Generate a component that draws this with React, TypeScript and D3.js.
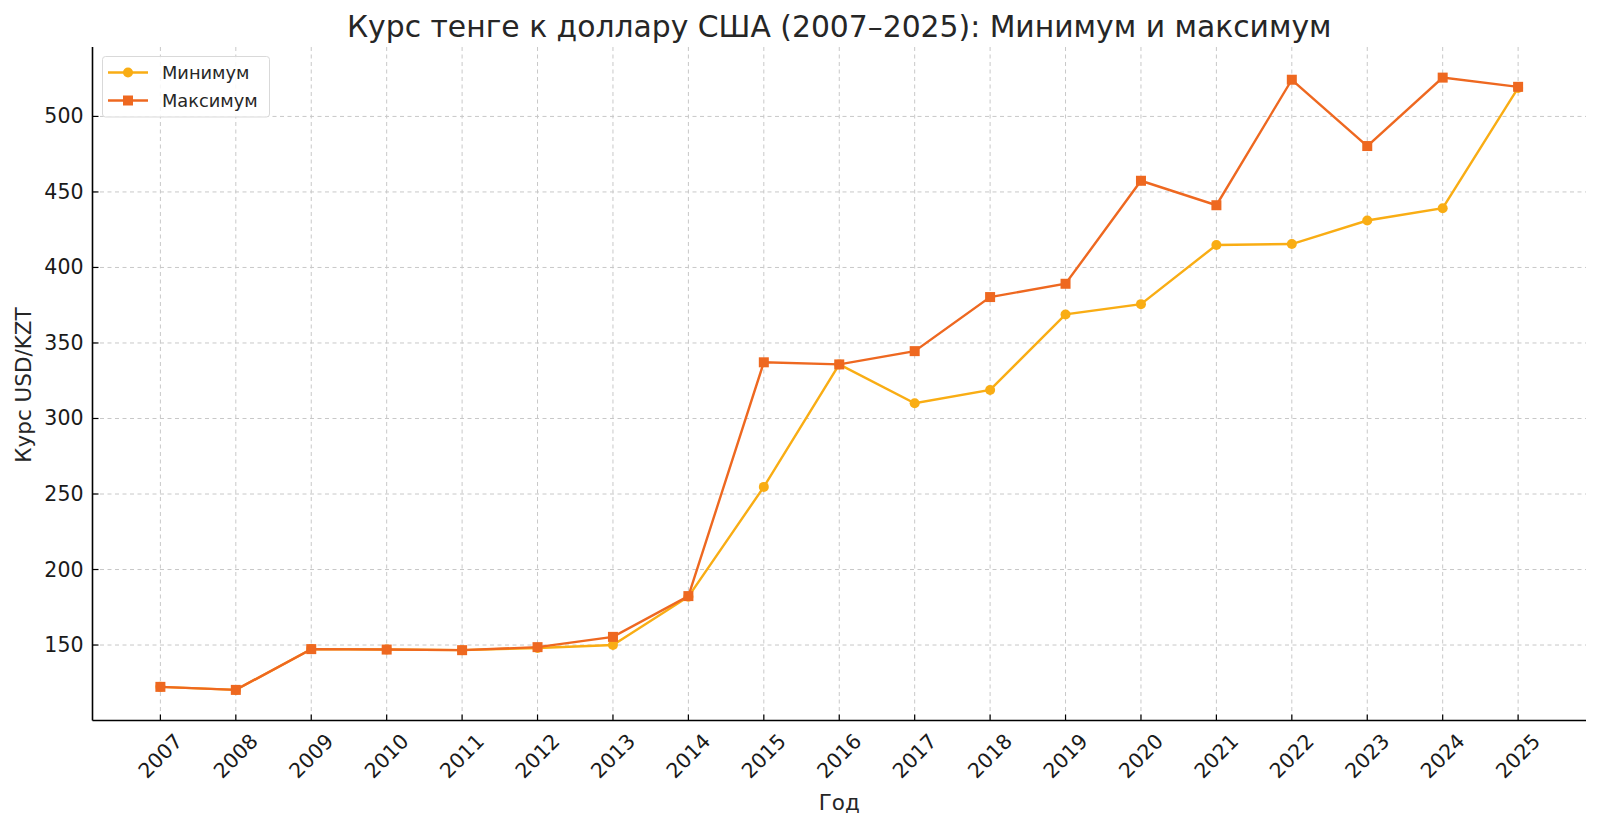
import React from "react";
import * as d3 from "d3";

const years = [2007, 2008, 2009, 2010, 2011, 2012, 2013, 2014, 2015, 2016, 2017, 2018, 2019, 2020, 2021, 2022, 2023, 2024, 2025];
const minValues = [122.3, 120.3, 147.3, 147.0, 146.6, 148.0, 150.0, 182.0, 254.7, 335.8, 310.1, 318.9, 368.9, 375.7, 414.9, 415.5, 431.1, 439.2, 518.9];
const maxValues = [122.3, 120.3, 147.3, 147.0, 146.6, 148.6, 155.4, 182.4, 337.2, 335.8, 344.6, 380.4, 389.2, 457.4, 441.2, 524.3, 480.4, 525.7, 519.6];
const yTicks = [150, 200, 250, 300, 350, 400, 450, 500];
const seriesNames = ["Минимум", "Максимум"];
const title = "Курс тенге к доллару США (2007–2025): Минимум и максимум";
const xLabel = "Год";
const yLabel = "Курс USD/KZT";

const W = 1600;
const H = 827;
const M = { left: 92.5, right: 1586, top: 47, bottom: 720.5 };
const MIN_COLOR = "#f9ad14";
const MAX_COLOR = "#ee6820";
const FONT = "'DejaVu Sans', sans-serif";

export default function App() {
  const x = d3.scaleLinear().domain([2006.1, 2025.9]).range([M.left, M.right]);
  const allVals = [...minValues, ...maxValues];
  const lo = d3.min(allVals)!;
  const hi = d3.max(allVals)!;
  const pad = (hi - lo) * 0.05;
  const y = d3.scaleLinear().domain([lo - pad, hi + pad]).range([M.bottom, M.top]);

  const line = d3
    .line<[number, number]>()
    .x((d) => x(d[0]))
    .y((d) => y(d[1]));
  const minPts: [number, number][] = years.map((yr, i) => [yr, minValues[i]]);
  const maxPts: [number, number][] = years.map((yr, i) => [yr, maxValues[i]]);

  const cx = (M.left + M.right) / 2;
  const cy = (M.top + M.bottom) / 2;

  return (
    <svg
      width={W}
      height={H}
      viewBox={`0 0 ${W} ${H}`}
      style={{ position: "absolute", left: 0, top: 0, background: "#fff" }}
      fontFamily={FONT}
    >
      <rect x={0} y={0} width={W} height={H} fill="#fff" />
      {/* grid */}
      <g stroke="#c8c8c8" strokeWidth={1} strokeDasharray="4,3.5">
        {years.map((yr) => (
          <line key={"gx" + yr} x1={x(yr)} x2={x(yr)} y1={M.top} y2={M.bottom} />
        ))}
        {yTicks.map((t) => (
          <line key={"gy" + t} x1={M.left} x2={M.right} y1={y(t)} y2={y(t)} />
        ))}
      </g>
      {/* series */}
      <path d={line(minPts)!} fill="none" stroke={MIN_COLOR} strokeWidth={2.4} />
      {minPts.map((p, i) => (
        <circle key={"mc" + i} cx={x(p[0])} cy={y(p[1])} r={5} fill={MIN_COLOR} />
      ))}
      <path d={line(maxPts)!} fill="none" stroke={MAX_COLOR} strokeWidth={2.4} />
      {maxPts.map((p, i) => (
        <rect key={"mr" + i} x={x(p[0]) - 5} y={y(p[1]) - 5} width={10} height={10} fill={MAX_COLOR} />
      ))}
      {/* spines */}
      <line x1={M.left} x2={M.left} y1={M.top} y2={M.bottom} stroke="#000" strokeWidth={1.6} />
      <line x1={M.left} x2={M.right} y1={M.bottom} y2={M.bottom} stroke="#000" strokeWidth={1.6} />
      {/* x ticks */}
      {years.map((yr) => (
        <g key={"xt" + yr}>
          <line x1={x(yr)} x2={x(yr)} y1={M.bottom} y2={M.bottom - 6} stroke="#000" strokeWidth={1.2} />
          <text
            x={x(yr)}
            y={756}
            transform={`rotate(-45, ${x(yr)}, 756)`}
            textAnchor="middle"
            dominantBaseline="central"
            fontSize={20.5}
            fill="#1a1a1a"
          >
            {yr}
          </text>
        </g>
      ))}
      {/* y ticks */}
      {yTicks.map((t) => (
        <g key={"yt" + t}>
          <line x1={M.left} x2={M.left + 6} y1={y(t)} y2={y(t)} stroke="#000" strokeWidth={1.2} />
          <text x={M.left - 9} y={y(t)} textAnchor="end" dominantBaseline="central" fontSize={20.5} fill="#1a1a1a">
            {t}
          </text>
        </g>
      ))}
      {/* labels */}
      <text x={cx} y={26} textAnchor="middle" dominantBaseline="central" fontSize={29.8} fill="#262626">
        {title}
      </text>
      <text x={cx} y={802} textAnchor="middle" dominantBaseline="central" fontSize={21.5} fill="#262626">
        {xLabel}
      </text>
      <text
        x={23}
        y={385}
        transform={`rotate(-90, 23, 385)`}
        textAnchor="middle"
        dominantBaseline="central"
        fontSize={21.5}
        fill="#262626"
      >
        {yLabel}
      </text>
      {/* legend */}
      <g>
        <rect x={102.5} y={56.5} width={167} height={60.5} rx={3} fill="#fff" fillOpacity={0.85} stroke="#d9d9d9" strokeWidth={1} />
        <line x1={108} x2={148} y1={72.5} y2={72.5} stroke={MIN_COLOR} strokeWidth={2.4} />
        <circle cx={128} cy={72.5} r={5} fill={MIN_COLOR} />
        <text x={162} y={72.5} dominantBaseline="central" fontSize={17.8} fill="#262626">
          {seriesNames[0]}
        </text>
        <line x1={108} x2={148} y1={100.5} y2={100.5} stroke={MAX_COLOR} strokeWidth={2.4} />
        <rect x={123} y={95.5} width={10} height={10} fill={MAX_COLOR} />
        <text x={162} y={100.5} dominantBaseline="central" fontSize={17.8} fill="#262626">
          {seriesNames[1]}
        </text>
      </g>
    </svg>
  );
}
